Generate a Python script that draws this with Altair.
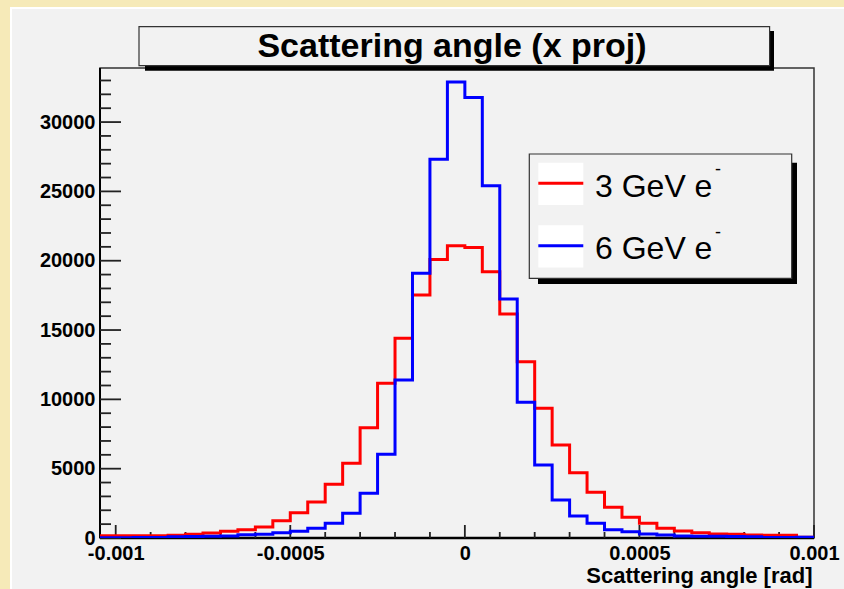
import altair as alt
import pandas as pd

# Histogram binning: 41 bins of 50 microrad starting at -1.05 mrad
bin_start = -0.00105
bin_width = 0.00005

counts_3gev = [170, 165, 170, 168, 192, 265, 360, 480, 600, 790,
               1250, 1827, 2600, 3880, 5385, 7957, 11154, 14400, 17523, 20095,
               21080, 20960, 19206, 16153, 12715, 9350, 6707, 4711, 3293, 2210,
               1490, 1058, 697, 505, 385, 288, 265, 216, 192, 192, 60]
counts_6gev = [25, 25, 30, 30, 96, 100, 120, 144, 230, 265,
               385, 480, 697, 1058, 1778, 3221, 6035, 11394, 19088, 27310,
               32885, 31780, 25406, 17235, 9784, 5264, 2740, 1587, 1058, 600,
               456, 288, 216, 144, 120, 120, 110, 96, 40, 40, 50]

series_names = ["3 GeV e", "6 GeV e"]
series_colors = ["#ff0000", "#0000ff"]

title_text = "Scattering angle (x proj)"
x_title = "Scattering angle [rad]"
x_major = [-0.001, -0.0005, 0, 0.0005, 0.001]
x_minor = [round(-0.001 + 0.0001 * i, 4) for i in range(21) if i % 5]
y_major = [0, 5000, 10000, 15000, 20000, 25000, 30000]
y_minor = [v for v in range(1000, 34000, 1000) if v % 5000]

W, H = 714, 470
PANEL = "#f2f2f2"
CREAM = "#f6eab8"
FONT = "Liberation Sans"

x_scale = alt.Scale(domain=[-0.001045, 0.001], nice=False, zero=False)
y_scale = alt.Scale(domain=[0, 33900], nice=False, zero=True)

one = pd.DataFrame({"k": [0]})


def box(x, x2, y, y2, **kw):
    return alt.Chart(one).mark_rect(**kw).encode(
        x=alt.value(x), x2=alt.value(x2), y=alt.value(y), y2=alt.value(y2)
    )


def label(text, x, y, **kw):
    return alt.Chart(pd.DataFrame({"t": [text]})).mark_text(font=FONT, color="black", **kw).encode(
        x=alt.value(x), y=alt.value(y), text="t:N"
    )


def hist_frame(counts):
    edges = [bin_start + i * bin_width for i in range(len(counts) + 1)]
    return pd.DataFrame({"edge": edges, "count": counts + counts[-1:]})


x_axis = alt.Axis(
    values=x_major, labelExpr="toString(datum.value)", labelFont=FONT,
    labelFontWeight="bold", labelFontSize=20, labelColor="black", labelPadding=5,
    labelFlush=False, ticks=False, tickSize=0, domain=False, grid=False,
    title=x_title, titleFont=FONT, titleFontSize=22, titleFontWeight="bold",
    titleColor="black", titleAlign="right", titleBaseline="alphabetic",
    titleX=712, titleY=44, zindex=1,
)
y_axis = alt.Axis(
    values=y_major, format="d", labelFont=FONT, labelFontWeight="bold",
    labelFontSize=20, labelColor="black", labelPadding=5, ticks=False, tickSize=0,
    domain=False, grid=False, title="", zindex=1,
)

layers = []

# canvas border: cream strips with a thin white edge
layers.append(box(-100, -90, -68, 521, color=CREAM))
layers.append(box(-100, 744, -68, -61, color=CREAM))
layers.append(box(-90, -88, -61, 521, color="white"))
layers.append(box(-90, 744, -61, -59, color="white"))

# frame
layers.append(box(0, W, 0, H, fillOpacity=0, stroke="#333333", strokeWidth=1.5))
layers.append(alt.Chart(one).mark_rule(color="black", strokeWidth=2).encode(
    x=alt.value(0), y=alt.value(0), y2=alt.value(H)))
layers.append(alt.Chart(one).mark_rule(color="black", strokeWidth=2.5).encode(
    x=alt.value(0), x2=alt.value(W), y=alt.value(H)))

# inward ticks (share the scales and axes of the histograms)
layers.append(alt.Chart(pd.DataFrame({"count": y_major})).mark_rule(color="#222222", strokeWidth=1.8).encode(
    y=alt.Y("count:Q", scale=y_scale, axis=y_axis), x=alt.value(0), x2=alt.value(21)))
layers.append(alt.Chart(pd.DataFrame({"count": y_minor})).mark_rule(color="#222222", strokeWidth=1.8).encode(
    y=alt.Y("count:Q", scale=y_scale, axis=y_axis), x=alt.value(0), x2=alt.value(11)))
layers.append(alt.Chart(pd.DataFrame({"edge": x_major})).mark_rule(color="#222222", strokeWidth=1.8).encode(
    x=alt.X("edge:Q", scale=x_scale, axis=x_axis), y=alt.value(H), y2=alt.value(H - 13)))
layers.append(alt.Chart(pd.DataFrame({"edge": x_minor})).mark_rule(color="#222222", strokeWidth=1.8).encode(
    x=alt.X("edge:Q", scale=x_scale, axis=x_axis), y=alt.value(H), y2=alt.value(H - 6)))

# histograms, drawn as step outlines
for color, counts in zip(series_colors, [counts_3gev, counts_6gev]):
    layers.append(
        alt.Chart(hist_frame(counts)).mark_line(
            interpolate="step-after", color=color, strokeWidth=3, clip=True
        ).encode(
            x=alt.X("edge:Q", scale=x_scale, axis=x_axis),
            y=alt.Y("count:Q", scale=y_scale, axis=y_axis),
        )
    )

# title box with shadow
layers.append(box(45, 674, -37, 2.7, color="black"))
layers.append(box(39, 669.6, -41.3, -2.3, fill=PANEL, stroke="#333333", strokeWidth=1.2))
layers.append(label(title_text, 352, -11, fontSize=34, fontWeight="bold", align="center", baseline="alphabetic"))

# legend box with shadow
layers.append(box(438, 697, 94.7, 216, color="black"))
layers.append(box(429.3, 691.7, 86, 210.3, fill=PANEL, stroke="#333333", strokeWidth=1.2))
for i, (name, color) in enumerate(zip(series_names, series_colors)):
    dy = i * 62.5
    layers.append(box(438.3, 483.3, 94.7 + dy, 137 + dy, color="white"))
    layers.append(alt.Chart(one).mark_rule(color=color, strokeWidth=3).encode(
        x=alt.value(438.3), x2=alt.value(483.3), y=alt.value(115.3 + dy)))
    layers.append(label(name, 495, 128.7 + dy, fontSize=32, align="left", baseline="alphabetic"))
    layers.append(label("-", 618, 107 + dy, fontSize=18, align="center", baseline="alphabetic"))

chart = alt.layer(*layers).properties(
    width=W,
    height=H,
    autosize=alt.AutoSizeParams(type="none"),
    padding={"left": 100, "top": 68, "right": 30, "bottom": 51},
    background=PANEL,
).configure_view(strokeWidth=0)

chart.save("out.html", embed_options={"renderer": "svg", "actions": False})
